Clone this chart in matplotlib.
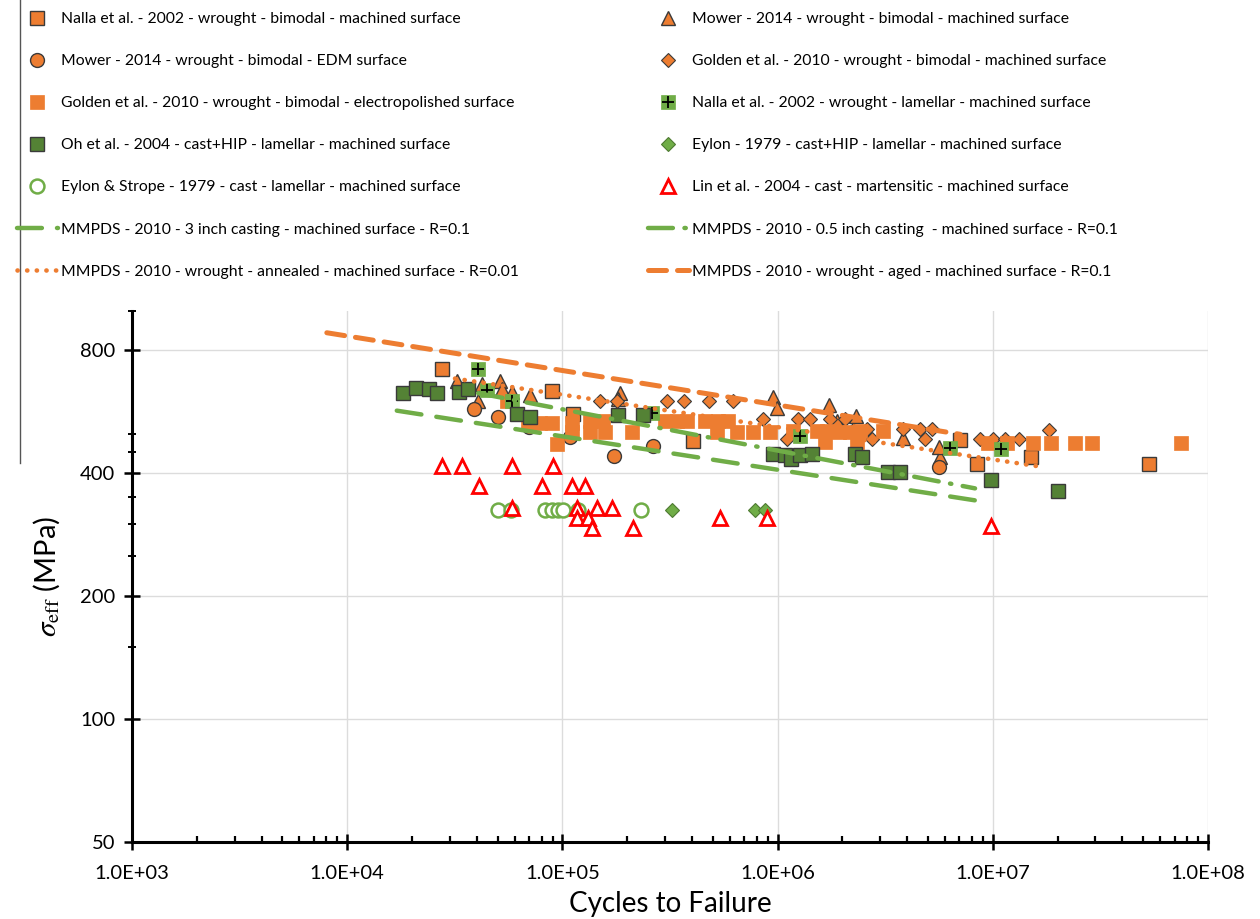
import matplotlib
matplotlib.use('Agg')
import matplotlib.pyplot as plt
from matplotlib.ticker import FixedLocator, NullFormatter, FuncFormatter, LogLocator
from matplotlib.lines import Line2D

# ---------------- data (cycles to failure, effective stress MPa) ----------------
nalla_bi_N = [27700, 89200, 112000, 405600, 7.04e6, 8.42e6, 1.50e7, 5.32e7]
nalla_bi_S = [719, 637, 558, 479, 481, 420, 439, 420]

mower_m_N = [32300, 42200, 40700, 51300, 52200, 58100, 70700, 185000, 182000,
             955000, 990000, 1.73e6, 1.89e6, 2.31e6, 3.84e6, 5.69e6, 5.64e6]
mower_m_S = [673, 662, 602, 673, 642, 631, 622, 627, 607,
             615, 578, 589, 538, 553, 488, 438, 463]

mower_edm_N = [39000, 50300, 70200, 108000, 174200, 264500, 5.64e6]
mower_edm_S = [574, 548, 518, 490, 440, 465, 414]

golden_m_N = [149600, 178800, 305000, 368500, 479600, 622000, 858000, 1.10e6,
              1.25e6, 1.41e6, 1.75e6, 2.06e6, 2.25e6, 2.60e6, 2.74e6, 3.84e6,
              4.59e6, 5.20e6, 4.84e6, 8.71e6, 1.0e7, 1.14e7, 1.33e7, 1.83e7]
golden_m_S = [602, 602, 602, 602, 602, 602, 543, 485,
              543, 543, 543, 543, 509, 514, 485, 514,
              514, 514, 485, 485, 485, 485, 485, 511]

golden_ep_N = [55100, 69500, 78700, 89200, 94000, 110400, 110400, 134200, 134200,
               154800, 157700, 209900, 299700, 339800, 378300, 459400, 529600,
               589800, 520900, 645000, 771000, 922000, 1.18e6, 1.52e6, 1.69e6,
               1.92e6, 2.17e6, 2.41e6, 3.10e6, 1.66e6, 2.33e6, 9.53e6, 1.16e7,
               1.54e7, 1.86e7, 2.41e7, 2.88e7, 7.50e7]
golden_ep_S = [602, 528, 532, 532, 472, 532, 504, 538, 504,
               538, 504, 504, 538, 538, 538, 538, 538,
               538, 504, 504, 504, 504, 508, 508, 508,
               504, 504, 508, 508, 477, 477, 474, 474,
               474, 474, 474, 474, 474]

nalla_lam_N = [40700, 44500, 58100, 260000, 1.27e6, 6.32e6, 1.09e7]
nalla_lam_S = [719, 639, 602, 560, 494, 460, 459]

oh_N = [18200, 20900, 24100, 26000, 33200, 36300, 61400, 70700, 182000, 237700,
        955000, 1.08e6, 1.16e6, 1.27e6, 1.44e6, 2.29e6, 2.46e6, 3.27e6, 3.70e6,
        9.77e6, 2.01e7]
oh_S = [627, 646, 642, 627, 631, 642, 558, 548, 556, 556,
        446, 442, 434, 442, 446, 446, 438, 402, 402,
        384, 362]

eylon_N = [322000, 785000, 874000]
eylon_S = [325, 325, 325]

eylon_strope_N = [50400, 57700, 83000, 89500, 95700, 101000, 118600, 233000]
eylon_strope_S = [325, 325, 325, 325, 325, 325, 325, 325]

lin_N = [27500, 34000, 58100, 90800, 41100, 80400, 111400, 126700, 58100, 116400,
         145300, 170600, 116400, 131900, 136700, 213500, 539000, 889000, 9.86e6]
lin_S = [416, 416, 416, 416, 373, 373, 373, 373, 328, 328,
         328, 328, 310, 310, 293, 293, 310, 310, 296]

mmpds_3in_N = [17000, 8.27e6]
mmpds_3in_S = [569, 343]
mmpds_05in_N = [40600, 8.27e6]
mmpds_05in_S = [628, 367]
mmpds_ann_N = [31700, 1.66e7]
mmpds_ann_S = [682, 415]
mmpds_aged_N = [8040, 7.05e6]
mmpds_aged_S = [883, 498]

y_major = [50, 100, 200, 400, 800]
y_minor = [150, 250, 300, 350, 450, 500, 1000]

labels_left = [
    "Nalla et al. - 2002 - wrought - bimodal - machined surface",
    "Mower - 2014 - wrought - bimodal - EDM surface",
    "Golden et al. - 2010 - wrought - bimodal - electropolished surface",
    "Oh et al. - 2004 - cast+HIP - lamellar - machined surface",
    "Eylon & Strope - 1979 - cast - lamellar - machined surface",
    "MMPDS - 2010 - 3 inch casting - machined surface - R=0.1",
    "MMPDS - 2010 - wrought - annealed - machined surface - R=0.01",
]
labels_right = [
    "Mower - 2014 - wrought - bimodal - machined surface",
    "Golden et al. - 2010 - wrought - bimodal - machined surface",
    "Nalla et al. - 2002 - wrought - lamellar - machined surface",
    "Eylon - 1979 - cast+HIP - lamellar - machined surface",
    "Lin et al. - 2004 - cast - martensitic - machined surface",
    "MMPDS - 2010 - 0.5 inch casting  - machined surface - R=0.1",
    "MMPDS - 2010 - wrought - aged - machined surface - R=0.1",
]

# ---------------- style ----------------
plt.rcParams['font.family'] = ['Lato', 'DejaVu Sans']
plt.rcParams['mathtext.fontset'] = 'stix'

ORANGE = '#ED7D31'
GREEN = '#70AD47'
DGREEN = '#548235'
EDGE = '#3a3a3a'
RED = '#FF0000'

W, H = 1260, 919
fig = plt.figure(figsize=(W / 100, H / 100), dpi=100)
ax = fig.add_axes([132 / W, 1 - 841.7 / H, (1208 - 132) / W, (841.7 - 310.7) / H])
ax.set_xscale('log')
ax.set_yscale('log')

mk = dict(linestyle='none')
h_nalla_bi, = ax.plot(nalla_bi_N, nalla_bi_S, marker='s', ms=9.5, mfc=ORANGE, mec=EDGE, mew=1.0, **mk)
h_mower_m, = ax.plot(mower_m_N, mower_m_S, marker='^', ms=10.5, mfc=ORANGE, mec=EDGE, mew=1.0, **mk)
h_mower_edm, = ax.plot(mower_edm_N, mower_edm_S, marker='o', ms=10, mfc=ORANGE, mec=EDGE, mew=1.0, **mk)
h_golden_m, = ax.plot(golden_m_N, golden_m_S, marker='D', ms=7, mfc=ORANGE, mec=EDGE, mew=0.8, **mk)
h_golden_ep, = ax.plot(golden_ep_N, golden_ep_S, marker='s', ms=9.5, mfc=ORANGE, mec=ORANGE, mew=0.5, **mk)
h_nalla_lam_sq, = ax.plot(nalla_lam_N, nalla_lam_S, marker='s', ms=9.5, mfc=GREEN, mec=GREEN, mew=0.5, **mk)
h_nalla_lam_pl, = ax.plot(nalla_lam_N, nalla_lam_S, marker='+', ms=9, mec='black', mew=1.3, **mk)
h_oh, = ax.plot(oh_N, oh_S, marker='s', ms=9.5, mfc=DGREEN, mec=EDGE, mew=1.0, **mk)
h_eylon, = ax.plot(eylon_N, eylon_S, marker='D', ms=7, mfc=GREEN, mec='#4e7a32', mew=0.8, **mk)
h_es, = ax.plot(eylon_strope_N, eylon_strope_S, marker='o', ms=10, mfc='white', mec=GREEN, mew=1.8, **mk)
h_lin, = ax.plot(lin_N, lin_S, marker='^', ms=10.5, mfc='white', mec=RED, mew=2.0, **mk)

h_3in, = ax.plot(mmpds_3in_N, mmpds_3in_S, color=GREEN, lw=3.2,
                 linestyle=(0, (5.6, 3.4)), dash_capstyle='round')
h_05in, = ax.plot(mmpds_05in_N, mmpds_05in_S, color=GREEN, lw=3.2,
                  linestyle=(0, (5.6, 2.6, 0.3, 2.6)), dash_capstyle='round')
h_ann, = ax.plot(mmpds_ann_N, mmpds_ann_S, color=ORANGE, lw=3.3,
                 linestyle=(0, (0.05, 2.05)), dash_capstyle='round')
h_aged, = ax.plot(mmpds_aged_N, mmpds_aged_S, color=ORANGE, lw=3.6,
                  linestyle=(0, (3.6, 2.2)), dash_capstyle='round')

ax.set_xlim(1e3, 1e8)
ax.set_ylim(50, 1000)

ax.grid(True, which='major', color='#dcdcdc', lw=1.0)
ax.set_axisbelow(True)

ax.xaxis.set_major_locator(LogLocator(base=10, numticks=10))
ax.xaxis.set_major_formatter(FuncFormatter(lambda v, p: f'{v:.1E}'))
ax.xaxis.set_minor_locator(LogLocator(base=10, subs=range(2, 10), numticks=100))
ax.xaxis.set_minor_formatter(NullFormatter())
ax.yaxis.set_major_locator(FixedLocator(y_major))
ax.yaxis.set_major_formatter(FuncFormatter(lambda v, p: f'{v:.0f}'))
ax.yaxis.set_minor_locator(FixedLocator(y_minor))
ax.yaxis.set_minor_formatter(NullFormatter())

ax.tick_params(axis='both', which='major', direction='inout', length=12, width=1.8,
               labelsize=14.5, color='black')
ax.tick_params(axis='x', which='minor', direction='in', length=4.5, width=1.6)
ax.tick_params(axis='y', which='minor', direction='inout', length=6, width=1.4)
ax.tick_params(axis='x', which='major', pad=11)
ax.tick_params(axis='y', which='major', pad=6)

for s in ('top', 'right'):
    ax.spines[s].set_visible(False)
for s in ('left', 'bottom'):
    ax.spines[s].set_linewidth(2.2)
    ax.spines[s].set_color('black')

ax.set_xlabel('Cycles to Failure', fontsize=20, labelpad=6)
ax.set_ylabel(r'$\sigma_{\mathrm{eff}}$ (MPa)', fontsize=21, labelpad=13)

# ---------------- legend (two columns) ----------------
left_handles = [h_nalla_bi, h_mower_edm, h_golden_ep, h_oh, h_es, h_3in, h_ann]
right_handles = [h_mower_m, h_golden_m, (h_nalla_lam_sq, h_nalla_lam_pl), h_eylon, h_lin, h_05in, h_aged]

common = dict(loc='upper left', frameon=False, fontsize=11.35, handlelength=2.6,
              handletextpad=0.2, labelspacing=1.78, borderpad=0, borderaxespad=0,
              numpoints=1)
fig.legend(handles=left_handles, labels=labels_left, bbox_to_anchor=(17 / W, 1 - 12 / H), **common)
fig.legend(handles=right_handles, labels=labels_right, bbox_to_anchor=(648 / W, 1 - 12 / H), **common)

fig.add_artist(Line2D([20 / W, 20 / W], [1, 1 - 463 / H], color='#555555', lw=1.0))

fig.savefig('out.png', dpi=100)
